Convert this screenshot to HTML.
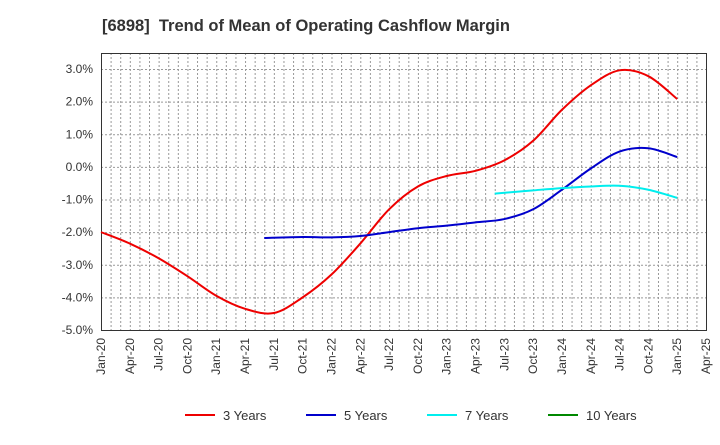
<!DOCTYPE html>
<html><head><meta charset="utf-8"><style>
body{margin:0;background:#fff;font-family:"Liberation Sans",sans-serif}
</style></head><body>
<svg id="chart" width="720" height="440" xmlns="http://www.w3.org/2000/svg"></svg>
<script>
const xLabels=["Jan-20","Apr-20","Jul-20","Oct-20","Jan-21","Apr-21","Jul-21","Oct-21","Jan-22","Apr-22","Jul-22","Oct-22","Jan-23","Apr-23","Jul-23","Oct-23","Jan-24","Apr-24","Jul-24","Oct-24","Jan-25","Apr-25"];
const yTicks=[3,2,1,0,-1,-2,-3,-4,-5];
const s3Months=[0,3,6,9,12,15,18,21,24,27,30,33,36,39,42,45,48,51,54,57,60];
const s3Values=[-2.0,-2.35,-2.8,-3.35,-3.95,-4.35,-4.48,-4.0,-3.3,-2.35,-1.3,-0.6,-0.28,-0.12,0.2,0.8,1.75,2.5,2.96,2.78,2.08];
const s5Months=[17,21,24,27,30,33,36,39,42,45,48,51,54,57,60];
const s5Values=[-2.18,-2.15,-2.16,-2.12,-2.0,-1.88,-1.8,-1.7,-1.6,-1.3,-0.7,-0.05,0.47,0.57,0.3];
const s7Months=[41,45,48,51,54,57,60];
const s7Values=[-0.82,-0.72,-0.65,-0.6,-0.58,-0.7,-0.95];
const L=101,R=706,T=53,B=330;
const X=m=>L+m*(R-L)/63;
const Y=v=>69+(3-v)*(330-69)/8;
const svg=document.getElementById('chart');
const NS="http://www.w3.org/2000/svg";
function mk(tag,attrs,parent){const e=document.createElementNS(NS,tag);for(const k in attrs)e.setAttribute(k,attrs[k]);(parent||svg).appendChild(e);return e;}
let t=mk('text',{x:102,y:31,'font-size':16.5,'font-weight':'bold',fill:'#333',style:'white-space:pre'});


t.textContent='[6898]  Trend of Mean of Operating Cashflow Margin';
const grid=mk('g',{stroke:'#999','stroke-width':1,'stroke-dasharray':'2,2'});


for(let m=1;m<63;m++){mk('line',{x1:X(m)+.5,x2:X(m)+.5,y1:T,y2:B},grid);}
yTicks.forEach(v=>{mk('line',{x1:L,x2:R,y1:Y(v)+.5,y2:Y(v)+.5},grid);
 const lb=mk('text',{x:L-8,y:Y(v)+4,'font-size':12,fill:'#333','text-anchor':'end'});
 
 
 lb.textContent=v.toFixed(1)+'%';});
xLabels.forEach((s,i)=>{const x=X(i*3);
 const lb=mk('text',{transform:`translate(${x+4},${B+8}) rotate(-90)`,'font-size':12,fill:'#333','text-anchor':'end'});
 
 
 lb.textContent=s;});
const frame=mk('rect',{x:L+.5,y:T+.5,width:R-L,height:B-T,fill:'none',stroke:'#333','stroke-width':1});


function path(ms,vs){const p=ms.map((m,i)=>[X(m),Y(vs[i])]);let d=`M${p[0][0]},${p[0][1]}`;
 for(let i=0;i<p.length-1;i++){const p0=p[i-1]||p[i],p1=p[i],p2=p[i+1],p3=p[i+2]||p2;
  d+=` C${p1[0]+(p2[0]-p0[0])/6},${p1[1]+(p2[1]-p0[1])/6} ${p2[0]-(p3[0]-p1[0])/6},${p2[1]-(p3[1]-p1[1])/6} ${p2[0]},${p2[1]}`;}
 return d;}
const s3=mk('path',{d:path(s3Months,s3Values),fill:'none',stroke:'#e00','stroke-width':2});


const s5=mk('path',{d:path(s5Months,s5Values),fill:'none',stroke:'#00c','stroke-width':2});


const s7=mk('path',{d:path(s7Months,s7Values),fill:'none',stroke:'#0ee','stroke-width':2});


const leg=[["3 Years","#e00",185],["5 Years","#00c",306],["7 Years","#0ee",427],["10 Years","#080",548]];
leg.forEach(([n,c,x])=>{const g=mk('g',{});
 
 
 mk('line',{x1:x,x2:x+30,y1:415,y2:415,stroke:c,'stroke-width':2},g);
 const tx=mk('text',{x:x+38,y:420,'font-size':13,fill:'#333'},g);tx.textContent=n;});
</script>
</body></html>
